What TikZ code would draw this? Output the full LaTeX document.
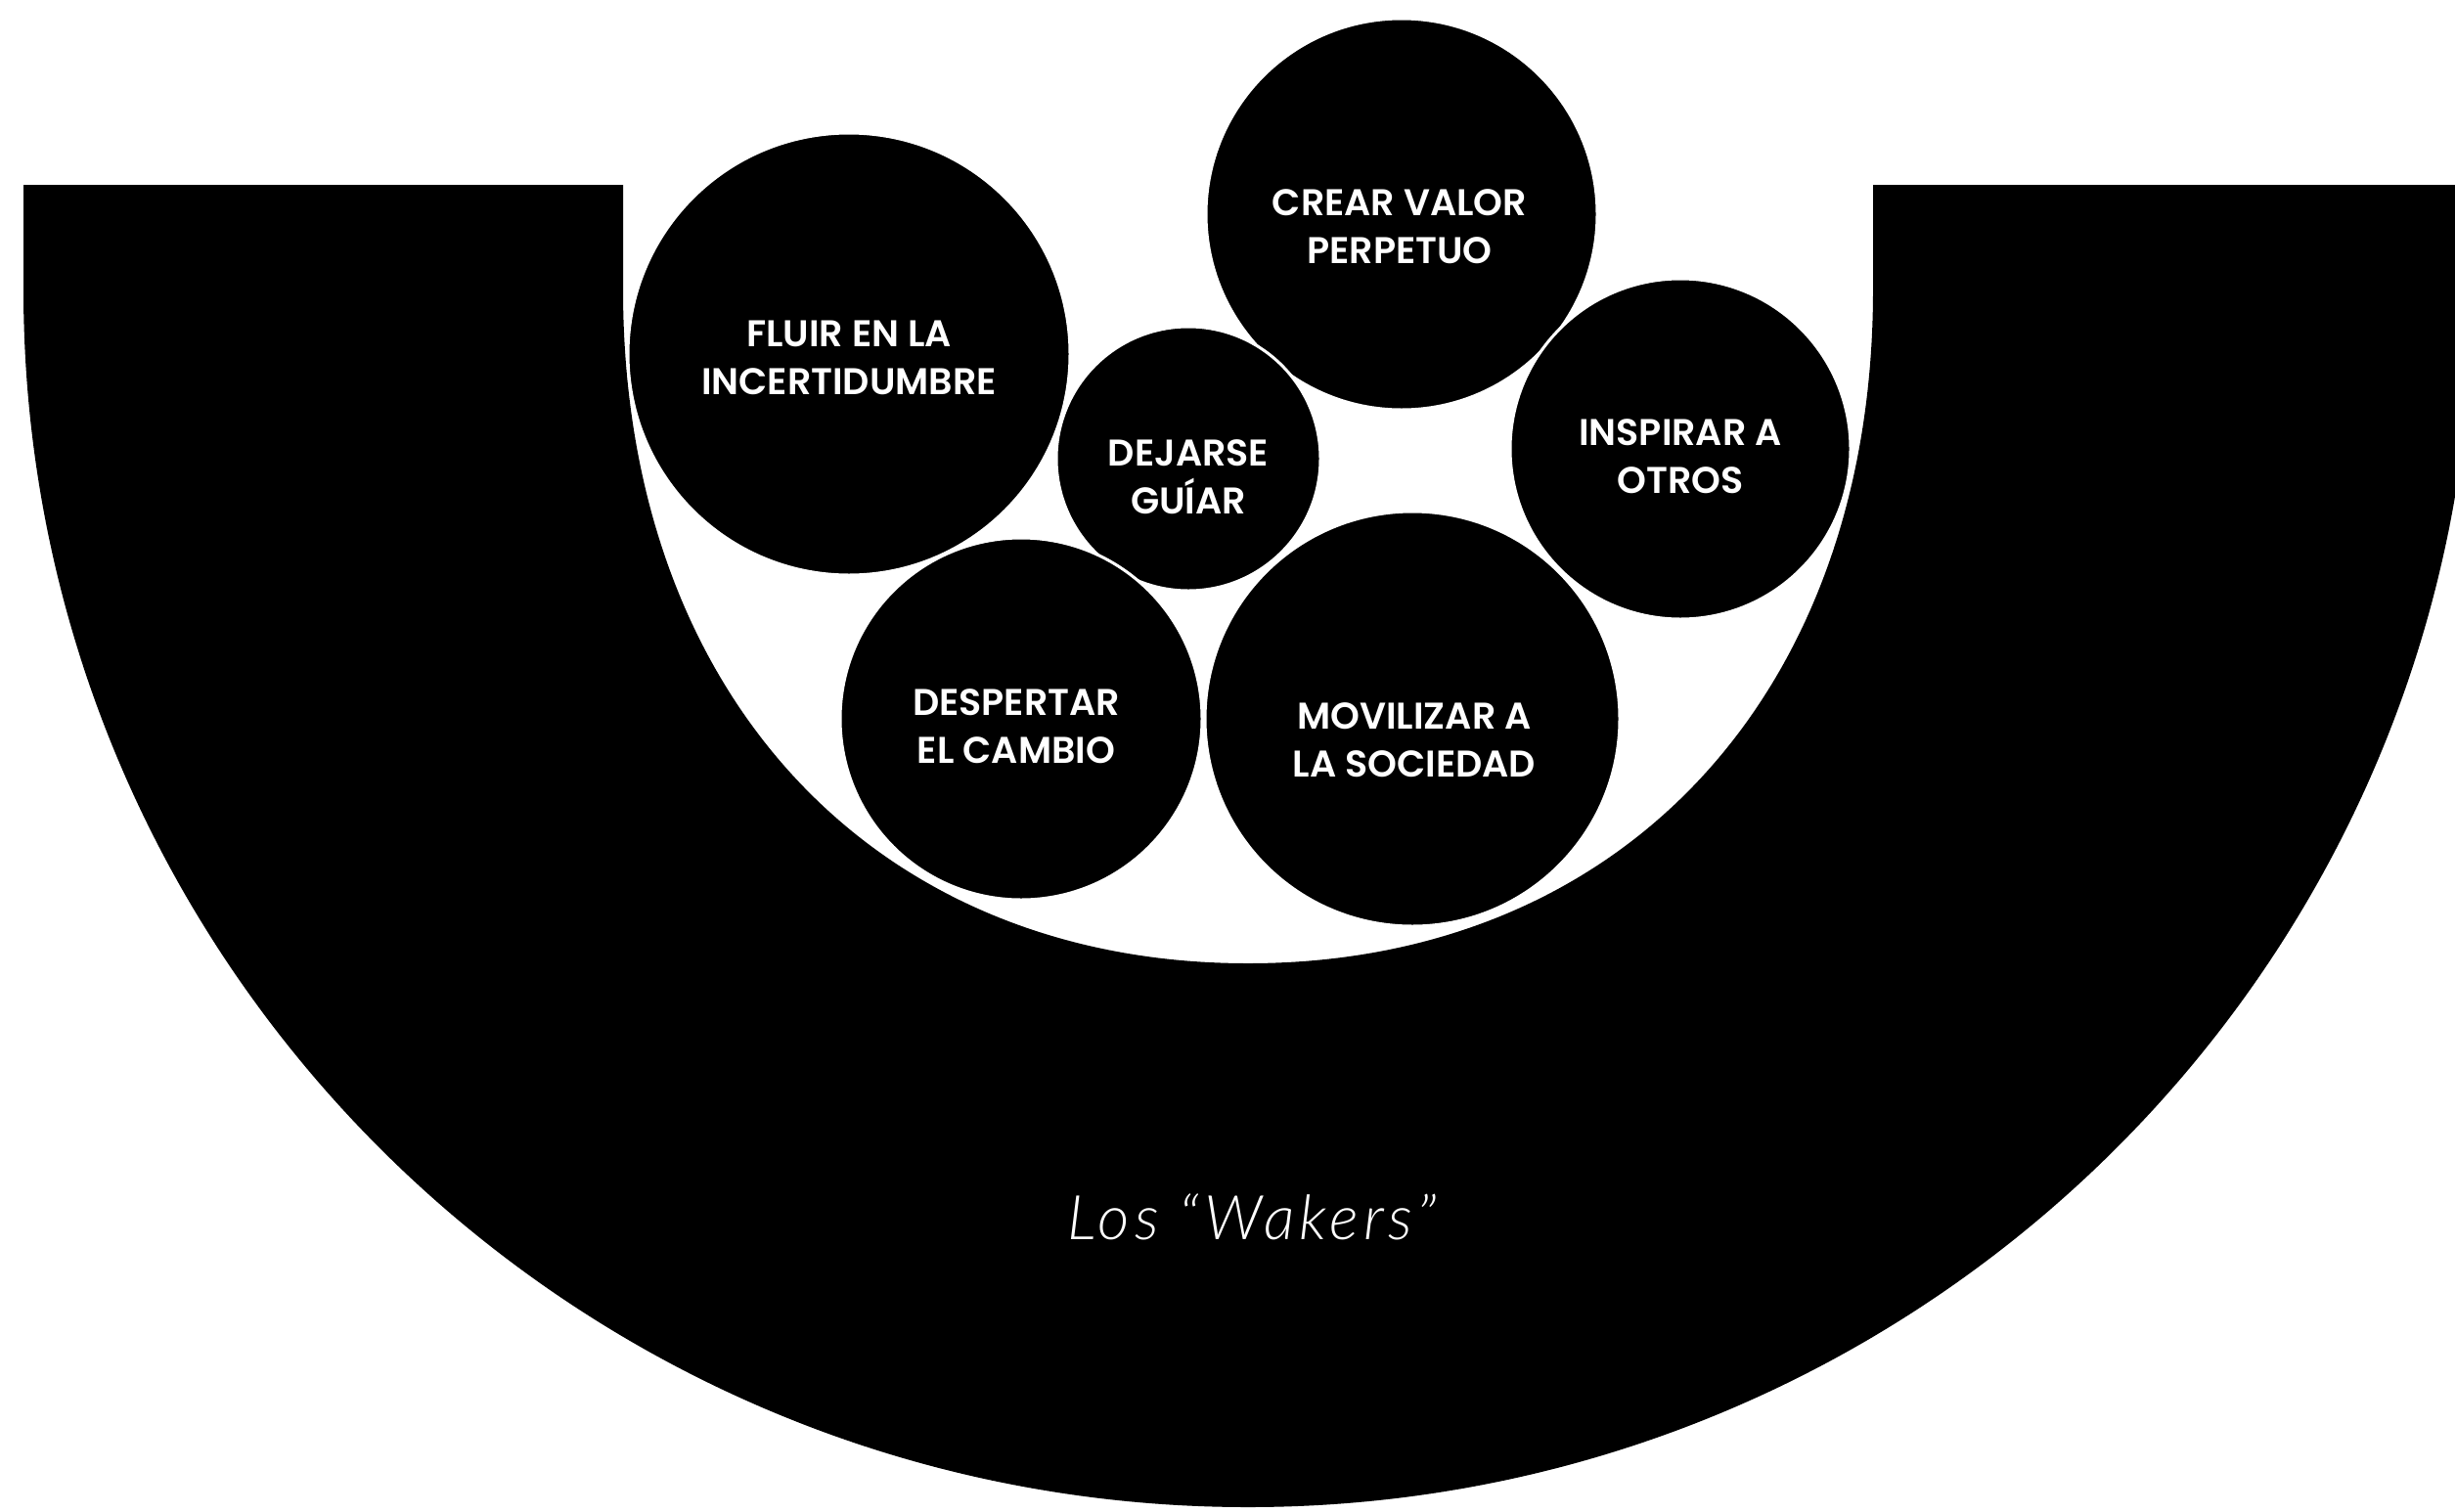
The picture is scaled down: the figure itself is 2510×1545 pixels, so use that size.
\documentclass[tikz,border=0pt]{standalone}
\usepackage{fontspec}
\setmainfont{Poppins}[BoldFont={* SemiBold}]
\newfontfamily\wakersfont{Lato Light Italic}[LetterSpace=8]
\usetikzlibrary{positioning}

\begin{document}
\begin{tikzpicture}[
  x=1pt,y=-1pt,
  bubble/.style={circle,fill=black,draw=white,line width=3pt,inner sep=0pt},
  lbl/.style={text=white,align=center,font=\fontsize{38}{49}\selectfont\bfseries},
  title/.style={text=white,anchor=base,font=\wakersfont\fontsize{63}{72}\selectfont}
]
\useasboundingbox (0,0) rectangle (2510,1545);
\begin{scope}
\clip (0,0) rectangle (2510,1545);
\fill[black]
  (24,189) -- (24,296) .. controls (24,984) and (585,1541) .. (1276,1541)
  .. controls (1967,1541) and (2528,984) .. (2528,296) -- (2528,189)
  -- (1915,189) -- (1915,296) .. controls (1915,709) and (1659,985) .. (1276,985)
  .. controls (893,985) and (637,709) .. (637,296) -- (637,189) -- cycle;
\end{scope}

\node[bubble,minimum size=452pt] (fluir) at (868,362) {};
\node[bubble,minimum size=400pt] (crear) at (1433,219) {};
\node[bubble,minimum size=270pt] (dejarse) at (1215,469) {};
\node[bubble,minimum size=348pt] (inspirar) at (1718,459) {};
\node[bubble,minimum size=370pt] (despertar) at (1044,735) {};
\node[bubble,minimum size=424pt] (movilizar) at (1444,735) {};

\node[lbl] (fluirtxt) at (868,366) {FLUIR EN LA\\INCERTIDUMBRE};
\node[lbl] (creartxt) at (1431,232) {CREAR VALOR\\PERPETUO};
\node[lbl] (dejarsetxt) at (1215,488) {DEJARSE\\GUÍAR};
\node[lbl] (inspirartxt) at (1718,467) {INSPIRAR A\\OTROS};
\node[lbl] (despertartxt) at (1039,743) {DESPERTAR\\EL CAMBIO};
\node[lbl] (movilizartxt) at (1446,757) {MOVILIZAR A\\LA SOCIEDAD};

\node[title] (wakers) at (1280,1267) {Los “Wakers”};
\end{tikzpicture}
\end{document}
